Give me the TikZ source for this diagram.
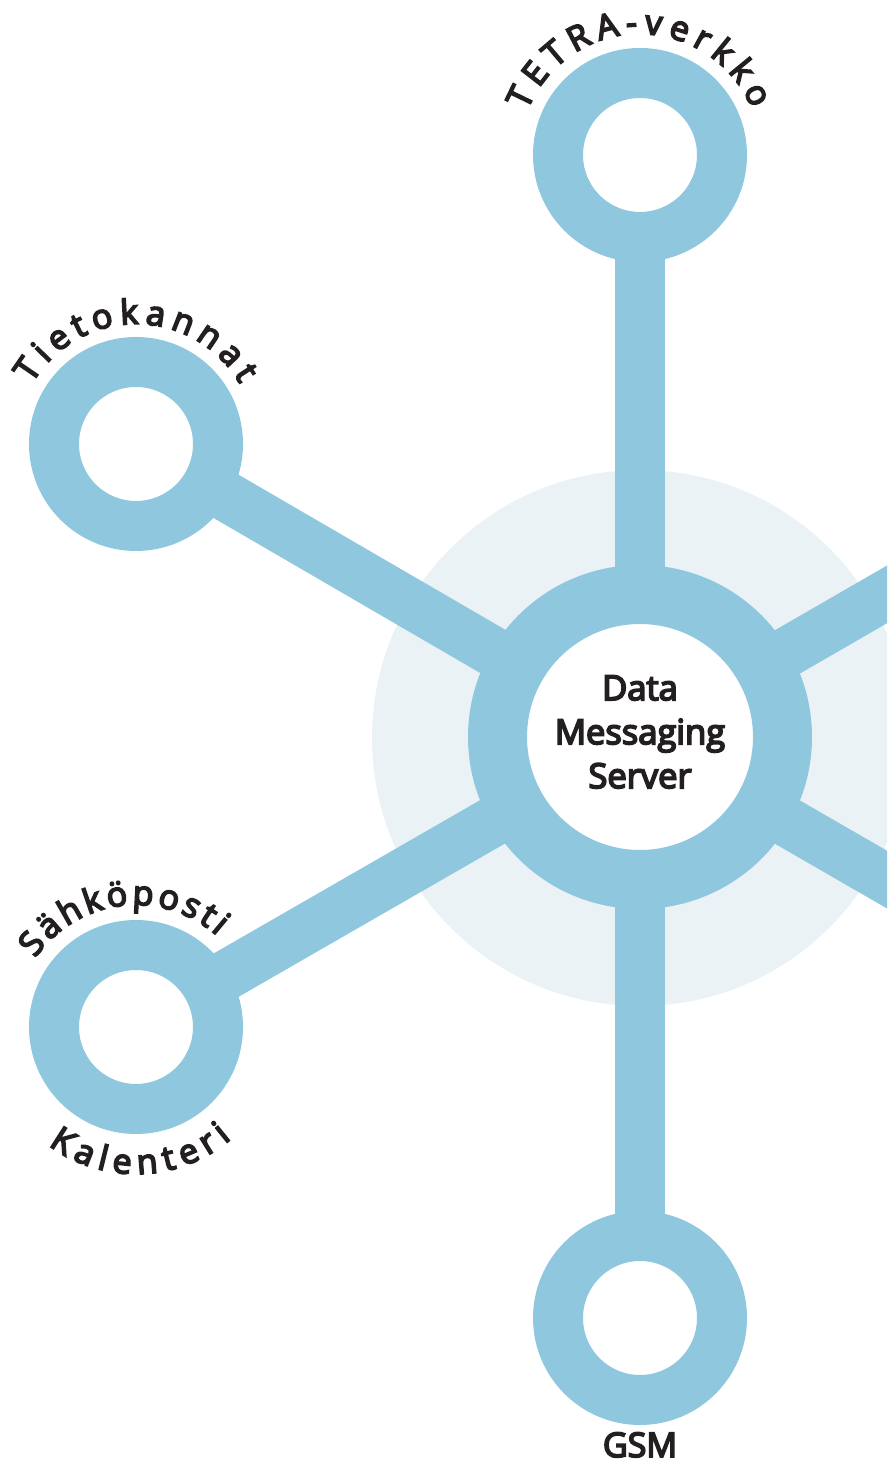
\documentclass[tikz,border=0pt]{standalone}
\usepackage{fontspec}
\setmainfont{Open Sans}[FakeBold=5]
\usetikzlibrary{backgrounds,calc}
\definecolor{ringblue}{HTML}{8FC7DF}
\definecolor{haze}{HTML}{EAF2F6}
\definecolor{ink}{HTML}{231F20}
\tikzset{
  ring/.style={circle,draw=ringblue,fill=white,line width=50pt,minimum size=164pt,inner sep=0pt},
  hub/.style={circle,draw=ringblue,fill=white,line width=59pt,minimum size=285pt,inner sep=0pt},
  conn/.style={draw=ringblue,line width=50pt},
  letterbox/.style={anchor=base,inner sep=0pt,outer sep=0pt,text=ink,font=\arcf},
}
\newcommand{\arcf}{\fontsize{34}{34}\selectfont}
\newlength\chw
\newlength\chsum
% measure letters before the picture: #1 name, #2 spacing, #3 letters
\newcommand\measureword[3]{%
  \global\chsum=0pt
  \foreach \ch [count=\k] in {#3} {%
    \settowidth{\chw}{\arcf\ch}%
    \expandafter\xdef\csname cw-#1-\k\endcsname{\the\chw}%
    \global\advance\chsum by \chw\relax
    \global\advance\chsum by #2pt\relax}%
  \global\advance\chsum by -#2pt\relax
  \expandafter\xdef\csname cs-#1\endcsname{\the\chsum}%
}
% #1 name, #2 centre node, #3 radius, #4 centre angle, #5 dir (1 = top, -1 = bottom), #6 spacing, #7 letters
\newcommand\arcword[7]{%
  \xdef\scur{0}%
  \edef\thissum{\csname cs-#1\endcsname}%
  \foreach \ch [count=\k] in {#7} {%
    \edef\thisw{\csname cw-#1-\k\endcsname}%
    \pgfmathsetmacro\smid{\scur + 0.5*\thisw - 0.5*\thissum}%
    \pgfmathsetmacro\lang{#4 - #5*\smid/#3*180/pi}%
    \pgfmathsetmacro\lrot{\lang - #5*90}%
    \node[letterbox,rotate=\lrot] (#1-\k) at ($(#2.center)+(\lang:#3)$) {\ch};
    \pgfmathsetmacro\snew{\scur + \thisw + #6}%
    \xdef\scur{\snew}%
  }%
}
\begin{document}
\measureword{tetra}{6.5}{T,E,T,R,A,-,v,e,r,k,k,o}%
\measureword{tieto}{6.3}{T,i,e,t,o,k,a,n,n,a,t}%
\measureword{sahko}{3.6}{S,ä,h,k,ö,p,o,s,t,i}%
\measureword{kal}{7.0}{K,a,l,e,n,t,e,r,i}%
\begin{tikzpicture}[x=1pt,y=1pt]
\useasboundingbox (0,0) rectangle (887,1463);
\node[hub] (C) at (640,726) {};
\node[ring] (T) at (640,1308) {};
\node[ring] (D) at (136,1019) {};
\node[ring] (S) at (136,436) {};
\node[ring] (G) at (640,145) {};
\coordinate (R1) at ($(640,726)+(30:420)$);
\coordinate (R2) at ($(640,726)+(-30:420)$);
\node[text=ink,align=center,font=\fontsize{34.5}{44}\selectfont] (Ctext) at (640,731) {Data\\Messaging\\Server};
\begin{scope}[on background layer]
  \clip (0,0) rectangle (887,1463);
  \fill[haze] (640,725) circle[radius=268];
  \draw[conn] (C.center) -- (T.center);
  \draw[conn] (C.center) -- (D.center);
  \draw[conn] (C.center) -- (S.center);
  \draw[conn] (C.center) -- (G.center);
  \draw[conn] (C.center) -- (R1);
  \draw[conn] (C.center) -- (R2);
\end{scope}
\arcword{tetra}{T}{121}{90.5}{1}{6.5}{T,E,T,R,A,-,v,e,r,k,k,o}
\arcword{tieto}{D}{120}{90}{1}{6.3}{T,i,e,t,o,k,a,n,n,a,t}
\arcword{sahko}{S}{122}{97}{1}{3.6}{S,ä,h,k,ö,p,o,s,t,i}
\arcword{kal}{S}{147}{-88}{-1}{7.0}{K,a,l,e,n,t,e,r,i}
\node[text=ink,font=\fontsize{34}{34}\selectfont,anchor=base] (gsm) at (640,6) {GSM};
\end{tikzpicture}
\end{document}
